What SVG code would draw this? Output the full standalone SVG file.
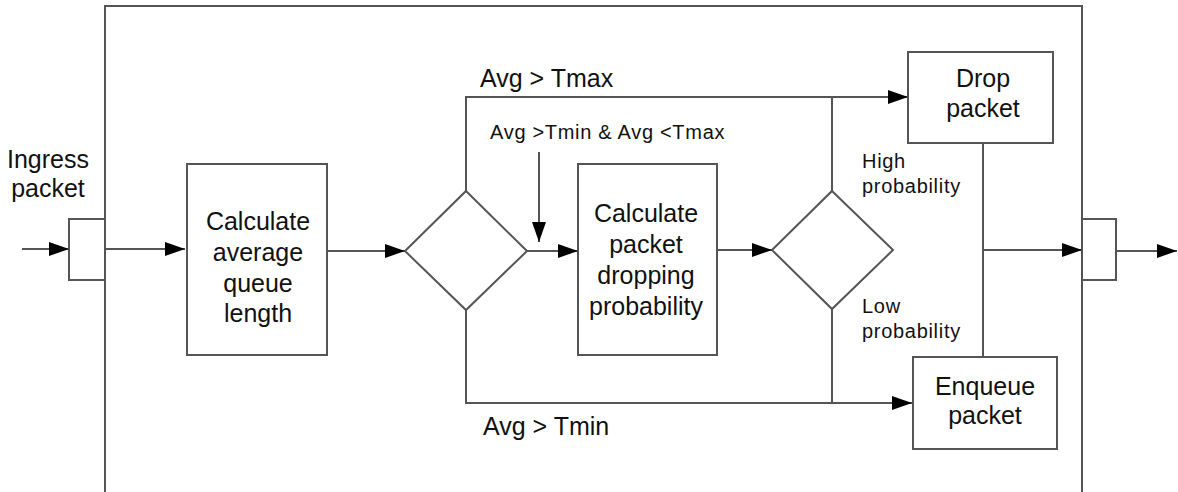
<svg xmlns="http://www.w3.org/2000/svg" width="1178" height="492" viewBox="0 0 1178 492">
<style>
.box{fill:#fff;stroke:#555;stroke-width:2}
.ln{fill:none;stroke:#555;stroke-width:2}
.t{font-family:"Liberation Sans",Arial,sans-serif;font-size:25px;fill:#111;text-anchor:middle}
.l{font-family:"Liberation Sans",Arial,sans-serif;font-size:25px;fill:#111}
.s{font-family:"Liberation Sans",Arial,sans-serif;font-size:20px;fill:#111;letter-spacing:0.7px}
</style>
<defs>
<marker id="ah" markerWidth="20" markerHeight="14" refX="20" refY="7" orient="auto" markerUnits="userSpaceOnUse">
<path d="M0,0 L20,7 L0,14 Z" fill="#000"/>
</marker>
</defs>
<rect width="1178" height="492" fill="#fff"/>
<g id="frame">
<path class="ln" d="M105,500 L105,6 L1082,6 L1082,500"/>
</g>
<g id="ingress">
<rect class="box" x="69" y="219" width="36" height="61"/>
<text class="t" x="48" y="168">Ingress</text>
<text class="t" x="48" y="197">packet</text>
</g>
<g id="egress">
<rect class="box" x="1082" y="219" width="34" height="61"/>
</g>
<g id="calc-avg">
<rect class="box" x="187" y="164" width="140" height="191"/>
<text class="t" x="258" y="230">Calculate</text>
<text class="t" x="258" y="261">average</text>
<text class="t" x="258" y="292">queue</text>
<text class="t" x="258" y="322">length</text>
</g>
<g id="decision1">
<polygon class="box" points="466,191 527,251 466,310 405,251"/>
</g>
<g id="calc-prob">
<rect class="box" x="578" y="164" width="139" height="191"/>
<text class="t" x="646" y="222">Calculate</text>
<text class="t" x="646" y="253">packet</text>
<text class="t" x="646" y="284">dropping</text>
<text class="t" x="646" y="315">probability</text>
</g>
<g id="decision2">
<polygon class="box" points="832,191 893,250 832,309 772,250"/>
</g>
<g id="drop">
<rect class="box" x="908" y="52" width="145" height="91"/>
<text class="t" x="983" y="87">Drop</text>
<text class="t" x="983" y="117">packet</text>
</g>
<g id="enqueue">
<rect class="box" x="913" y="357" width="144" height="92"/>
<text class="t" x="985" y="395">Enqueue</text>
<text class="t" x="985" y="424">packet</text>
</g>
<g id="connectors">
<path class="ln" d="M22,249 L69,249" marker-end="url(#ah)"/>
<path class="ln" d="M105,249 L185,249" marker-end="url(#ah)"/>
<path class="ln" d="M327,251 L405,251" marker-end="url(#ah)"/>
<path class="ln" d="M527,251 L578,251" marker-end="url(#ah)"/>
<path class="ln" d="M539,152 L539,242" marker-end="url(#ah)"/>
<path class="ln" d="M717,250 L772,250" marker-end="url(#ah)"/>
<path class="ln" d="M466,191 L466,97 L908,97" marker-end="url(#ah)"/>
<path class="ln" d="M832,97 L832,191"/>
<path class="ln" d="M466,310 L466,403 L912,403" marker-end="url(#ah)"/>
<path class="ln" d="M832,309 L832,403"/>
<path class="ln" d="M983,143 L983,357"/>
<path class="ln" d="M983,250 L1082,250" marker-end="url(#ah)"/>
<path class="ln" d="M1116,251 L1177,251" marker-end="url(#ah)"/>
</g>
<g id="labels">
<text class="l" x="480" y="87">Avg &gt; Tmax</text>
<text class="s" x="490" y="139">Avg &gt;Tmin &amp; Avg &lt;Tmax</text>
<text class="l" x="483" y="435">Avg &gt; Tmin</text>
<text class="s" x="862" y="168">High</text>
<text class="s" x="862" y="193">probability</text>
<text class="s" x="862" y="313">Low</text>
<text class="s" x="862" y="338">probability</text>
</g>
</svg>
